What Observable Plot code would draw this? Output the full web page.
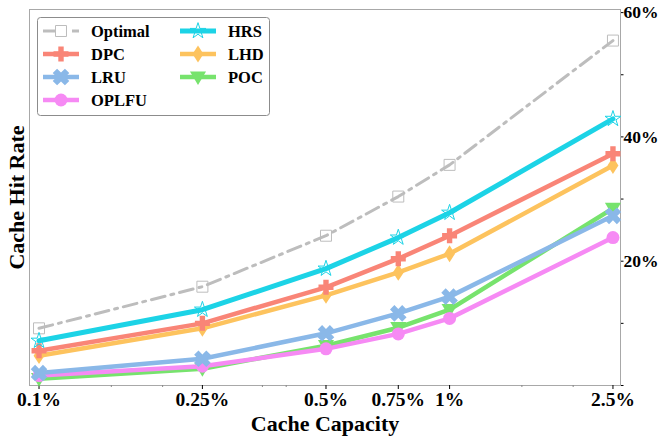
<!DOCTYPE html>
<html>
<head>
<meta charset="utf-8">
<script src="https://cdn.jsdelivr.net/npm/d3@7"></script>
<script src="https://cdn.jsdelivr.net/npm/@observablehq/plot@0.6"></script>
<style>
  html, body { margin: 0; padding: 0; background: white; }
  #chart svg { font-weight: bold; }
</style>
</head>
<body>
<div id="chart"></div>
<script>
// ---- data ----
const capacities = [0.1, 0.25, 0.5, 0.75, 1, 2.5];           // cache capacity, %
const xMinorTicks = [0.15, 0.2, 0.35, 0.4, 1.5, 2];
const yMajorTicks = [0.2, 0.4, 0.6];
const yMinorTicks = [0, 0.1, 0.3, 0.5];

const seriesNames = ["Optimal", "DPC", "LRU", "OPLFU", "HRS", "LHD", "POC"];
const optimal = [0.092, 0.159, 0.241, 0.304, 0.355, 0.555];
const dpc     = [0.056, 0.100, 0.158, 0.204, 0.241, 0.373];
const lru     = [0.020, 0.043, 0.084, 0.116, 0.143, 0.273];
const oplfu   = [0.016, 0.031, 0.059, 0.083, 0.108, 0.238];
const hrs     = [0.072, 0.122, 0.188, 0.238, 0.278, 0.429];
const lhd     = [0.048, 0.092, 0.145, 0.182, 0.212, 0.354];
const poc     = [0.011, 0.027, 0.064, 0.093, 0.122, 0.285];

// ---- symbols ----
function polySymbol(pts) {
  return {
    draw(ctx, size) {
      const r = Math.sqrt(size / Math.PI);
      pts.forEach(([px, py], i) => i ? ctx.lineTo(px * r, py * r) : ctx.moveTo(px * r, py * r));
      ctx.closePath();
    }
  };
}
const w = 0.36;
const plusPts = [[-w,-1],[w,-1],[w,-w],[1,-w],[1,w],[w,w],[w,1],[-w,1],[-w,w],[-1,w],[-1,-w],[-w,-w]];
const c45 = Math.SQRT1_2;
const xPts = plusPts.map(([a, b]) => [(a - b) * c45 * 1.15, (a + b) * c45 * 1.15]);
const symPlus = polySymbol(plusPts);
const symX = polySymbol(xPts);
const symTriDown = polySymbol([[-1.15,-0.8],[1.15,-0.8],[0,1.15]]);
const symDiamond = polySymbol([[0,-1.2],[0.78,0],[0,1.2],[-0.78,0]]);

const styles = {
  Optimal: {values: optimal, color: "#bdbdbd", width: 3, dash: "14,6,3,6", symbol: d3.symbolSquare, r: 6.2, hollow: true},
  POC:     {values: poc,     color: "#77e36d", width: 4.5, symbol: symTriDown, r: 7},
  OPLFU:   {values: oplfu,   color: "#f68af4", width: 4.5, symbol: d3.symbolCircle, r: 6.5},
  LRU:     {values: lru,     color: "#8ab8e8", width: 4.5, symbol: symX, r: 7.5},
  LHD:     {values: lhd,     color: "#fdc35e", width: 4.5, symbol: symDiamond, r: 7},
  DPC:     {values: dpc,     color: "#f98577", width: 4.5, symbol: symPlus, r: 7.5},
  HRS:     {values: hrs,     color: "#1cd3e6", width: 5, symbol: d3.symbolStar, r: 5, hollow: true}
};
const drawOrder = ["Optimal", "POC", "OPLFU", "LRU", "LHD", "DPC", "HRS"];

const marks = [
  Plot.frame({stroke: "#a8a8a8"}),
  Plot.axisX({ticks: xMinorTicks, tickFormat: () => "", tickSize: 2, label: null, stroke: "#888"}),
  Plot.axisX({ticks: capacities, tickFormat: d => d + "%", tickSize: 4, tickPadding: 3, fontSize: 19.5, label: null}),
  Plot.axisY({anchor: "right", ticks: yMinorTicks, tickFormat: () => "", tickSize: 2.5, label: null}),
  Plot.axisY({anchor: "right", ticks: yMajorTicks, tickFormat: d3.format(".0%"), tickSize: 2.5, tickPadding: 0.5, fontSize: 17.5, label: null})
];

for (const name of drawOrder) {
  const s = styles[name];
  const data = capacities.map((c, i) => ({x: c, y: s.values[i]}));
  marks.push(Plot.line(data, {x: "x", y: "y", stroke: s.color, strokeWidth: s.width,
    strokeDasharray: s.dash}));
  marks.push(Plot.dot(data, {x: "x", y: "y", symbol: s.symbol, r: s.r,
    fill: s.hollow ? "none" : s.color, stroke: s.color, strokeWidth: s.hollow ? 1 : 0}));
}

marks.push(Plot.text(["Cache Hit Rate"], {frameAnchor: "left", rotate: -90, dx: -13, fontSize: 22,
  textAnchor: "middle", lineAnchor: "middle", text: d => d}));
marks.push(Plot.text(["Cache Capacity"], {frameAnchor: "bottom", dy: 38, fontSize: 22,
  textAnchor: "middle", lineAnchor: "middle", text: d => d}));

const chart = Plot.plot({
  width: 659, height: 437,
  marginLeft: 29, marginRight: 39, marginTop: 9, marginBottom: 52,
  x: {type: "log", domain: [0.0948, 2.608]},
  y: {domain: [0, 0.605]},
  style: {fontFamily: "'Liberation Serif', 'Times New Roman', serif", background: "white", color: "black"},
  marks
});

// ---- legend inside the plot ----
const svg = d3.select(chart);
const lg = svg.append("g").attr("font-size", 16.5).attr("font-weight", "bold").attr("text-anchor", "start");
lg.append("rect").attr("x", 37.5).attr("y", 17.5).attr("width", 232).attr("height", 98)
  .attr("rx", 3).attr("fill", "white").attr("stroke", "#8c8c8c");
const legendOrder = [["Optimal", 0, 0], ["DPC", 0, 1], ["LRU", 0, 2], ["OPLFU", 0, 3],
                     ["HRS", 1, 0], ["LHD", 1, 1], ["POC", 1, 2]];
const colX = [43, 180], textX = [91, 228], rowY = [31, 54, 77, 100];
for (const [name, col, row] of legendOrder) {
  const s = styles[name];
  const x0 = colX[col], y0 = rowY[row];
  lg.append("line").attr("x1", x0).attr("x2", x0 + 36).attr("y1", y0).attr("y2", y0)
    .attr("stroke", s.color).attr("stroke-width", s.width).attr("stroke-dasharray", s.dash || null);
  lg.append("path").attr("transform", `translate(${x0 + 18},${y0})`)
    .attr("d", d3.symbol(s.symbol, Math.PI * s.r * s.r)())
    .attr("fill", s.hollow ? (name === "Optimal" ? "white" : "none") : s.color)
    .attr("stroke", s.color).attr("stroke-width", s.hollow ? 1 : 0);
  lg.append("text").attr("x", textX[col]).attr("y", y0).attr("dy", "0.35em").text(name);
}

document.getElementById("chart").appendChild(chart);
</script>
</body>
</html>
